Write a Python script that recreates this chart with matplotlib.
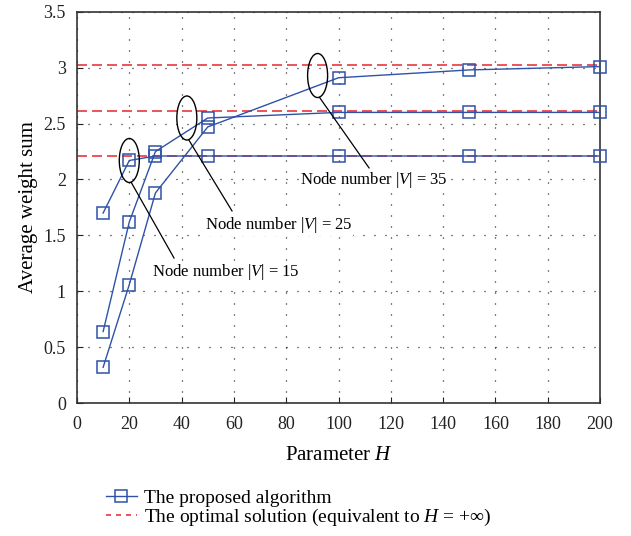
import matplotlib.pyplot as plt
from matplotlib.patches import Ellipse

plt.rcParams['font.family'] = 'Liberation Serif'
plt.rcParams['mathtext.fontset'] = 'custom'
plt.rcParams['mathtext.rm'] = 'Liberation Serif'
plt.rcParams['mathtext.it'] = 'Liberation Serif:italic'

H = [10, 20, 30, 50, 100, 150, 200]
v15 = [1.70, 2.17, 2.21, 2.21, 2.21, 2.21, 2.21]
v25 = [0.64, 1.62, 2.25, 2.55, 2.60, 2.60, 2.60]
v35 = [0.32, 1.06, 1.88, 2.47, 2.91, 2.98, 3.01]
optimal = [2.21, 2.61, 3.02]

blue = '#2f52a8'
red = '#e8383d'

fig = plt.figure(figsize=(6.31, 5.36), dpi=100)
ax = fig.add_axes([0.122, 0.248, 0.829, 0.730])

for y in optimal:
    ax.axhline(y, color=red, lw=1.2, ls=(0, (6, 3)), zorder=2)

for ys in (v15, v25, v35):
    ax.plot(H, ys, color=blue, lw=1.0, marker='s', ms=9, mfc='none',
            mec=blue, mew=1.1, zorder=3, clip_on=False)

# annotations: ellipse around a point, leader line, label
notes = [
    ((20, 2.17), (174, 258), (152, 272), '15'),
    ((42, 2.55), (232, 211), (205, 225), '25'),
    ((92, 2.93), (369, 168), (300, 180), '35'),
]
pxx = 200 / (600 - 77)
pxy = 3.5 / (403 - 12)
for (cx, cy), end_px, txt_px, n in notes:
    ax.add_patch(Ellipse((cx, cy), 20 * pxx, 44 * pxy, fill=False,
                         ec='black', lw=1.0, zorder=4))
    x0 = cx + 0.5 * 20 * pxx * 0.2
    y0 = cy - 0.5 * 44 * pxy
    x1 = (end_px[0] - 77) * pxx
    y1 = (403 - end_px[1]) * pxy
    ax.plot([x0, x1], [y0, y1], color='black', lw=0.9, zorder=4)
    tx = (txt_px[0] - 77) * pxx
    ty = (403 - txt_px[1]) * pxy
    ax.text(tx, ty, r'Node number |$V$| = ' + n, fontsize=12,
            va='center', ha='left', zorder=5,
            bbox=dict(fc='white', ec='none', pad=0.5))

ax.set_xlim(0, 200)
ax.set_ylim(0, 3.5)
ax.set_xticks(range(0, 201, 20))
ax.set_yticks([0, 0.5, 1, 1.5, 2, 2.5, 3, 3.5])
ax.set_yticklabels(['0', '0.5', '1', '1.5', '2', '2.5', '3', '3.5'])
ax.tick_params(direction='in', length=4, labelsize=13, colors='#222222')
ax.tick_params(axis='x', pad=9)
ax.tick_params(axis='y', pad=8)
ax.grid(True, color='black', ls=(0, (0.8, 8)), lw=0.9)
for s in ax.spines.values():
    s.set_color('#333333')
    s.set_linewidth(1.2)

ax.set_xlabel(r'Parameter $H$', fontsize=15, labelpad=10)
ax.set_ylabel('Average weight sum', fontsize=15, labelpad=4)

h1, = ax.plot([], [], color=blue, lw=1.0, marker='s', ms=9, mfc='none',
              mec=blue, mew=1.1)
h2, = ax.plot([], [], color=red, lw=1.2, ls=(0, (3, 3)))
fig.legend([h1, h2], ['The proposed algorithm',
                      r'The optimal solution (equivalent to $H$ = +$\infty$)'],
           loc='upper left', bbox_to_anchor=(0.152, 0.106), frameon=False,
           fontsize=14, handlelength=1.6, borderpad=0, labelspacing=0.0,
           handletextpad=0.35)

fig.savefig('out.png', dpi=100)
